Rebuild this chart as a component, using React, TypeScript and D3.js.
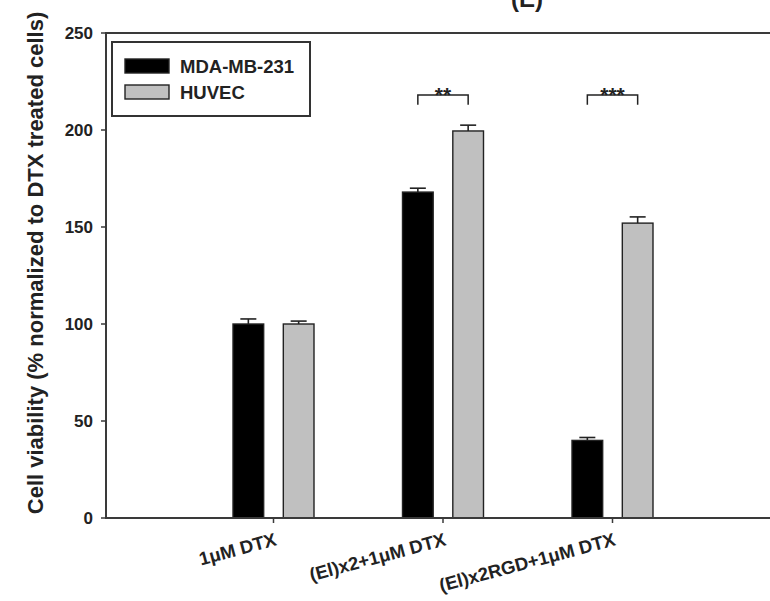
import React from "react";
import * as d3 from "d3";

// Treatment groups along the x axis
const categories = ["1μM DTX", "(El)x2+1μM DTX", "(El)x2RGD+1μM DTX"];
// Cell lines (one bar each per treatment)
const seriesNames = ["MDA-MB-231", "HUVEC"];
// Mean viability (% of DTX-treated cells) and SEM per series
const mdaValues = [100, 168, 40];
const mdaErrors = [2.6, 2, 1.5];
const huvecValues = [100, 199.5, 152];
const huvecErrors = [1.5, 3, 3.2];
// Significance brackets between the two cell lines
const sigGroups = ["(El)x2+1μM DTX", "(El)x2RGD+1μM DTX"];
const sigLabels = ["**", "***"];
const sigTop = 218;
const sigLeg = 213;
// Y axis ticks
const yTicks = [0, 50, 100, 150, 200, 250];

const W = 770;
const H = 601;
const FONT = "'Liberation Sans', Arial, Helvetica, sans-serif";
const GRAY = "#c0c0c0";
const INK = "#222";

export default function App() {
  const frameLeft = 106;
  const frameTop = 33;
  const frameBottom = 518;

  const y = d3.scaleLinear().domain([0, 250]).range([frameBottom, frameTop]);
  const x = d3.scalePoint<string>().domain(categories).range([104, 782]).padding(1);
  const sub = d3
    .scaleBand<string>()
    .domain(seriesNames)
    .range([-40.5, 40.5])
    .paddingInner(0.39)
    .paddingOuter(0);
  const bw = sub.bandwidth();

  const series = [
    { name: seriesNames[0], values: mdaValues, errors: mdaErrors, fill: "#000000" },
    { name: seriesNames[1], values: huvecValues, errors: huvecErrors, fill: GRAY },
  ];

  const capHalf = 8;

  return (
    <svg
      width={W}
      height={H}
      viewBox={`0 0 ${W} ${H}`}
      style={{ position: "absolute", left: 0, top: 0, background: "#fff" }}
      fontFamily={FONT}
      fontWeight="bold"
    >
      <rect x={0} y={0} width={W} height={H} fill="#fff" />

      {/* panel title, running off the top edge */}
      <text x={527} y={7} fontSize={24} textAnchor="middle" fill={INK}>
        (E)
      </text>

      {/* bars with upward error bars */}
      {series.map((s) =>
        categories.map((c, i) => {
          const cx = (x(c) as number) + (sub(s.name) as number);
          const v = s.values[i];
          const e = s.errors[i];
          const mid = cx + bw / 2;
          return (
            <g key={s.name + c}>
              <line x1={mid} x2={mid} y1={y(v)} y2={y(v + e)} stroke={INK} strokeWidth={1.6} />
              <line
                x1={mid - capHalf}
                x2={mid + capHalf}
                y1={y(v + e)}
                y2={y(v + e)}
                stroke={INK}
                strokeWidth={1.6}
              />
              <rect
                x={cx}
                y={y(v)}
                width={bw}
                height={y(0) - y(v)}
                fill={s.fill}
                stroke={INK}
                strokeWidth={1.4}
              />
            </g>
          );
        })
      )}

      {/* significance brackets */}
      {sigGroups.map((g, i) => {
        const x1 = (x(g) as number) + (sub(seriesNames[0]) as number) + bw / 2;
        const x2 = (x(g) as number) + (sub(seriesNames[1]) as number) + bw / 2;
        const path = d3.path();
        path.moveTo(x1, y(sigLeg));
        path.lineTo(x1, y(sigTop));
        path.lineTo(x2, y(sigTop));
        path.lineTo(x2, y(sigLeg));
        return (
          <g key={g}>
            <path d={path.toString()} fill="none" stroke={INK} strokeWidth={1.5} />
            <text x={(x1 + x2) / 2} y={y(sigTop) + 7} fontSize={21} textAnchor="middle" fill={INK}>
              {sigLabels[i]}
            </text>
          </g>
        );
      })}

      {/* plot frame */}
      <path
        d={`M${W + 10},${frameTop}H${frameLeft}V${frameBottom}H${W + 10}`}
        fill="none"
        stroke="#3a3a3a"
        strokeWidth={2}
      />

      {/* y axis ticks and labels */}
      {yTicks.map((t) => (
        <g key={t}>
          <line x1={frameLeft - 5} x2={frameLeft} y1={y(t)} y2={y(t)} stroke="#3a3a3a" strokeWidth={1.5} />
          <text x={93} y={y(t)} dy="0.36em" fontSize={17} textAnchor="end" fill={INK}>
            {t}
          </text>
        </g>
      ))}

      {/* x axis ticks and rotated labels */}
      {categories.map((c) => {
        const cx = x(c) as number;
        return (
          <g key={c}>
            <line x1={cx} x2={cx} y1={frameBottom} y2={frameBottom + 5} stroke="#3a3a3a" strokeWidth={1.5} />
            <text
              transform={`translate(${cx + 4},${frameBottom + 27}) rotate(-15)`}
              fontSize={18.5}
              textAnchor="end"
              fill={INK}
            >
              {c}
            </text>
          </g>
        );
      })}

      {/* y axis title */}
      <text
        transform={`translate(43,263) rotate(-90)`}
        fontSize={22}
        textAnchor="middle"
        fill={INK}
      >
        Cell viability (% normalized to DTX treated cells)
      </text>

      {/* legend */}
      <rect x={112} y={42} width={198} height={74} fill="#fff" stroke="#333" strokeWidth={2} />
      {series.map((s, i) => (
        <g key={s.name} transform={`translate(125,${59 + i * 26})`}>
          <rect x={0} y={0} width={44} height={14} fill={s.fill} stroke={INK} strokeWidth={1.4} />
          <text x={55} y={14} fontSize={18.5} fill={INK}>
            {s.name}
          </text>
        </g>
      ))}
    </svg>
  );
}
